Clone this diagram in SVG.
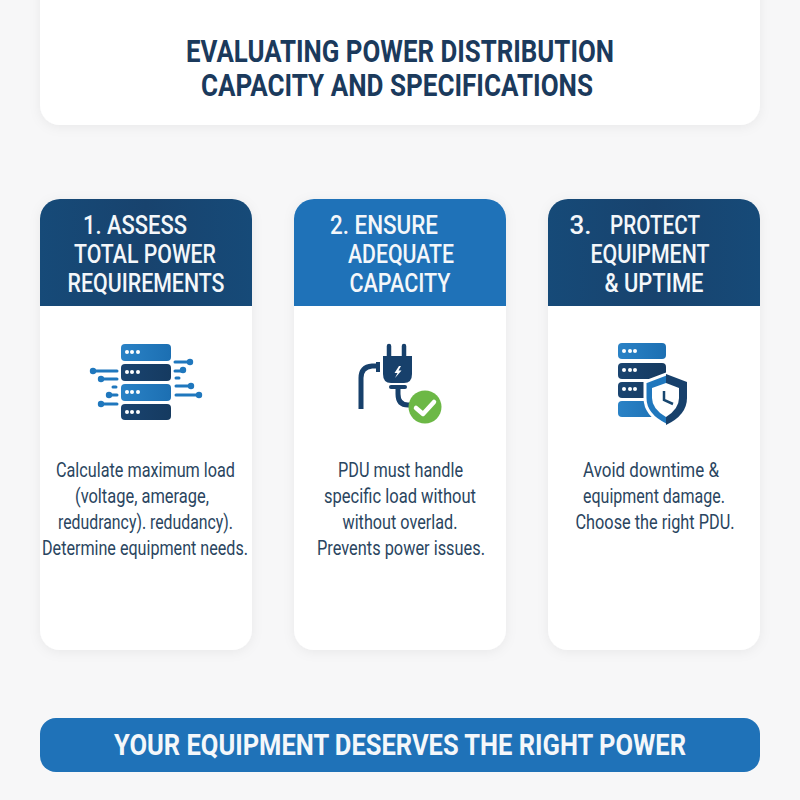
<svg xmlns="http://www.w3.org/2000/svg" width="800" height="800" viewBox="0 0 800 800">
<style>
.h{font-family:Roboto,"Liberation Sans",sans-serif;font-weight:500;fill:#f4f7fa;font-size:26px;text-anchor:middle}
.t{font-family:Roboto,"Liberation Sans",sans-serif;font-weight:700;fill:#1b3a5c;font-size:31px;text-anchor:middle}
.b{font-family:Roboto,"Liberation Sans",sans-serif;fill:#2a4560;font-size:21px;text-anchor:middle}
.card{fill:#fff;filter:url(#s)}
.l{fill:url(#gl)}.d{fill:url(#gd)}
.w{stroke-width:3;stroke:#1f77bd;fill:none;stroke-linecap:round}
</style>
<defs>
<filter id="s" x="-15%" y="-15%" width="130%" height="130%"><feDropShadow dx="0" dy="2" stdDeviation="6" flood-color="#000" flood-opacity="0.06"/></filter>
<linearGradient id="gl" x1="0" x2="1"><stop offset="0" stop-color="#2a82c6"/><stop offset="1" stop-color="#1c6fb2"/></linearGradient>
<linearGradient id="gd" x1="0" x2="1"><stop offset="0" stop-color="#1a4470"/><stop offset="1" stop-color="#153a60"/></linearGradient>
<linearGradient id="hd" x1="0" x2="1"><stop offset="0" stop-color="#164a78"/><stop offset=".5" stop-color="#18436e"/><stop offset="1" stop-color="#164a78"/></linearGradient>
</defs>
<rect width="800" height="800" fill="#f7f7f8"/>
<g id="title">
<rect class="card" x="40" y="-30" width="720" height="155" rx="20"/>
<text class="t" x="400" y="62" textLength="428" lengthAdjust="spacingAndGlyphs">EVALUATING POWER DISTRIBUTION</text>
<text class="t" x="397" y="96" textLength="392" lengthAdjust="spacingAndGlyphs">CAPACITY AND SPECIFICATIONS</text>
</g>
<g id="card1">
<rect class="card" x="40" y="199" width="212" height="451" rx="20"/>
<path d="M40 306V219a20 20 0 0 1 20-20H232a20 20 0 0 1 20 20V306Z" fill="url(#hd)"/>
<text class="h" x="135" y="234" textLength="104" lengthAdjust="spacingAndGlyphs">1. ASSESS</text>
<text class="h" x="145" y="263" textLength="142" lengthAdjust="spacingAndGlyphs">TOTAL POWER</text>
<text class="h" x="146" y="292" textLength="157" lengthAdjust="spacingAndGlyphs">REQUIREMENTS</text>
<g id="icon1">
<rect class="l" x="121" y="344" width="50" height="17" rx="4"/>
<rect class="d" x="121" y="364" width="50" height="17" rx="4"/>
<rect class="l" x="121" y="384" width="50" height="17" rx="4"/>
<rect class="d" x="121" y="404" width="50" height="16" rx="4"/>
<g fill="#fff"><circle cx="127" cy="352" r="2"/><circle cx="132" cy="352" r="2"/><circle cx="138" cy="352" r="2"/><circle cx="127" cy="372" r="2"/><circle cx="132" cy="372" r="2"/><circle cx="138" cy="372" r="2"/><circle cx="127" cy="392" r="2"/><circle cx="132" cy="392" r="2"/><circle cx="138" cy="392" r="2"/><circle cx="127" cy="412" r="2"/><circle cx="132" cy="412" r="2"/><circle cx="138" cy="412" r="2"/></g>
<path class="w" d="M175 362H190M175 371H183M176 378H179M176 386H191M176 395H199M117 371H93M117 379H101M116 387H113M117 395H109M117 404H101"/>
<g fill="#1f77bd"><circle cx="190" cy="362" r="3.200"/><circle cx="183" cy="370" r="3.200"/><circle cx="191" cy="386" r="3.200"/><circle cx="199" cy="395" r="3.200"/><circle cx="93" cy="371" r="3.200"/><circle cx="101" cy="379" r="3.200"/><circle cx="109" cy="395" r="3.200"/><circle cx="101" cy="404" r="3.200"/></g>
</g>
<text class="b" x="145.500" y="477" textLength="179" lengthAdjust="spacingAndGlyphs">Calculate maximum load</text>
<text class="b" x="142" y="503" textLength="134" lengthAdjust="spacingAndGlyphs">(voltage, amerage,</text>
<text class="b" x="145.500" y="529" textLength="175" lengthAdjust="spacingAndGlyphs">redudrancy). redudancy).</text>
<text class="b" x="145" y="555" textLength="206" lengthAdjust="spacingAndGlyphs">Determine equipment needs.</text>
</g>
<g id="card2">
<rect class="card" x="294" y="199" width="212" height="451" rx="20"/>
<path d="M294 306V219a20 20 0 0 1 20-20H486a20 20 0 0 1 20 20V306Z" fill="#1f72b8"/>
<text class="h" x="384" y="234" textLength="108" lengthAdjust="spacingAndGlyphs">2. ENSURE</text>
<text class="h" x="401" y="263" textLength="106" lengthAdjust="spacingAndGlyphs">ADEQUATE</text>
<text class="h" x="400" y="292" textLength="101" lengthAdjust="spacingAndGlyphs">CAPACITY</text>
<g id="icon2">
<path d="M361 409V378Q361 367 372 366H377" fill="none" stroke="#17406b" stroke-width="5"/>
<rect x="376" y="362" width="4" height="10" fill="#17406b"/>
<path d="M389 346V357M404 346V357" stroke="#17406b" stroke-width="4.500" stroke-linecap="round"/>
<path d="M383 356H412V374Q412 383 404 383H391Q383 383 383 374Z" fill="#17406b"/>
<path d="M399 366L394.500 373H397.500L395 378L401.500 370.500H398.500L401 366Z" fill="#fff"/>
<path d="M391 387H405" stroke="#17406b" stroke-width="4" stroke-linecap="round"/>
<path d="M398 387V394Q398 405 408 405H414" fill="none" stroke="#17406b" stroke-width="5"/>
<circle cx="425" cy="407" r="16.500" fill="#6cb846"/>
<path d="M416 408L423 414L434 402" fill="none" stroke="#fff" stroke-width="4.500" stroke-linecap="round" stroke-linejoin="round"/>
</g>
<text class="b" x="400.500" y="477" textLength="125" lengthAdjust="spacingAndGlyphs">PDU must handle</text>
<text class="b" x="400" y="503" textLength="152" lengthAdjust="spacingAndGlyphs">specific load without</text>
<text class="b" x="400" y="529" textLength="115" lengthAdjust="spacingAndGlyphs">without overlad.</text>
<text class="b" x="401" y="555" textLength="168" lengthAdjust="spacingAndGlyphs">Prevents power issues.</text>
</g>
<g id="card3">
<rect class="card" x="548" y="199" width="212" height="451" rx="20"/>
<path d="M548 306V219a20 20 0 0 1 20-20H740a20 20 0 0 1 20 20V306Z" fill="url(#hd)"/>
<text class="h" x="580.500" y="234">3.</text>
<text class="h" x="655" y="234" textLength="90" lengthAdjust="spacingAndGlyphs">PROTECT</text>
<text class="h" x="650" y="263" textLength="119" lengthAdjust="spacingAndGlyphs">EQUIPMENT</text>
<text class="h" x="654" y="292" textLength="99" lengthAdjust="spacingAndGlyphs">&amp; UPTIME</text>
<g id="icon3">
<rect class="l" x="618" y="343" width="48" height="16" rx="4"/>
<rect class="d" x="618" y="363" width="48" height="16" rx="4"/>
<rect class="d" x="618" y="382" width="48" height="16" rx="4"/>
<rect class="l" x="618" y="401" width="48" height="16" rx="4"/>
<g fill="#fff"><circle cx="624" cy="351" r="2"/><circle cx="630" cy="351" r="2"/><circle cx="635" cy="351" r="2"/><circle cx="624" cy="370" r="2"/><circle cx="630" cy="370" r="2"/><circle cx="635" cy="370" r="2"/><circle cx="624" cy="389" r="2"/><circle cx="630" cy="389" r="2"/><circle cx="635" cy="389" r="2"/></g>
<path d="M666 374L687 382V398Q687 415 666 425Q645 415 645 398V382Z" fill="#1f77bd" stroke="#fff" stroke-width="3"/>
<path d="M666 374L687 382V398Q687 415 666 425Z" fill="#17406b"/>
<path d="M666 383L679 388V398Q679 409 666 417Q652 409 652 398V388Z" fill="#fff"/>
<path d="M664 391V400L673 404" fill="none" stroke="#17466f" stroke-width="2.500"/>
</g>
<text class="b" x="651" y="477" textLength="136" lengthAdjust="spacingAndGlyphs">Avoid downtime &amp;</text>
<text class="b" x="654" y="503" textLength="142" lengthAdjust="spacingAndGlyphs">equipment damage.</text>
<text class="b" x="655" y="529" textLength="159" lengthAdjust="spacingAndGlyphs">Choose the right PDU.</text>
</g>
<g id="banner">
<rect x="40" y="718" width="720" height="54" rx="16" fill="#1f72b8"/>
<text x="400" y="755" font-family="Roboto,'Liberation Sans',sans-serif" font-weight="700" font-size="29" fill="#f4f7fa" text-anchor="middle" textLength="572" lengthAdjust="spacingAndGlyphs">YOUR EQUIPMENT DESERVES THE RIGHT POWER</text>
</g>
</svg>
